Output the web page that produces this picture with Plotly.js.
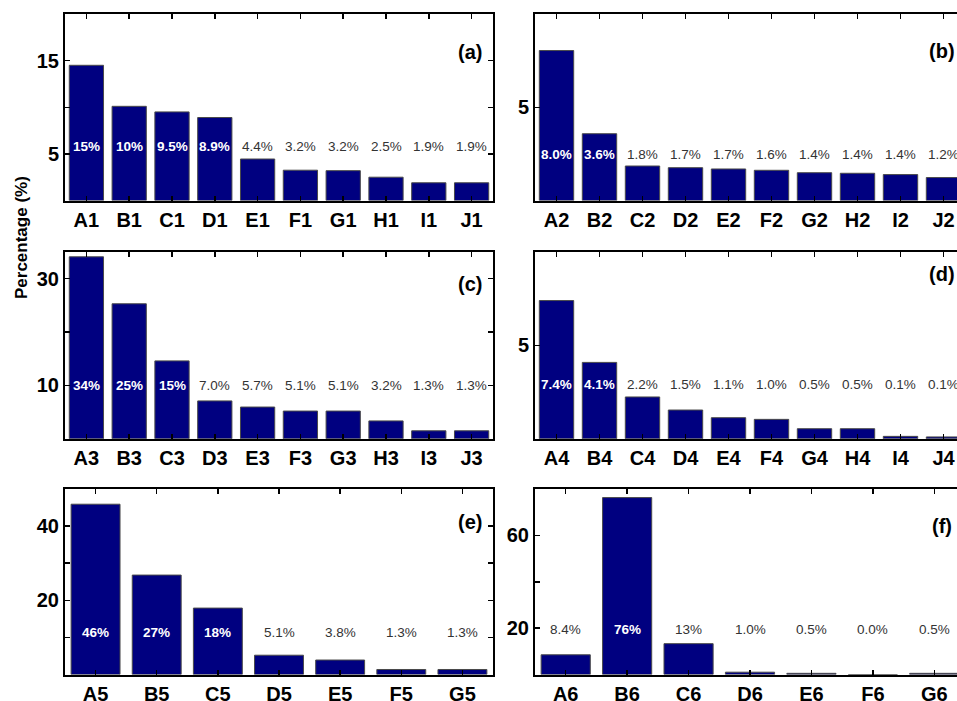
<!DOCTYPE html>
<html><head><meta charset="utf-8">
<script src="https://cdn.plot.ly/plotly-3.0.1.min.js"></script>
<style>html,body{margin:0;padding:0;overflow:hidden;background:#fff}#chart{width:980px;height:701px}</style>
</head><body><div id="chart"></div>
<script>
// ---- data ----
const catsA = ['A1','B1','C1','D1','E1','F1','G1','H1','I1','J1'];
const valsA = [14.5,10.1,9.5,8.9,4.45,3.25,3.2,2.5,1.9,1.9];
const labsA = ['15%','10%','9.5%','8.9%','4.4%','3.2%','3.2%','2.5%','1.9%','1.9%'];

const catsB = ['A2','B2','C2','D2','E2','F2','G2','H2','I2','J2'];
const valsB = [8.04,3.58,1.85,1.76,1.69,1.62,1.49,1.46,1.39,1.23];
const labsB = ['8.0%','3.6%','1.8%','1.7%','1.7%','1.6%','1.4%','1.4%','1.4%','1.2%'];

const catsC = ['A3','B3','C3','D3','E3','F3','G3','H3','I3','J3'];
const valsC = [34.1,25.3,14.6,7.1,5.95,5.2,5.2,3.35,1.5,1.5];
const labsC = ['34%','25%','15%','7.0%','5.7%','5.1%','5.1%','3.2%','1.3%','1.3%'];

const catsD = ['A4','B4','C4','D4','E4','F4','G4','H4','I4','J4'];
const valsD = [7.4,4.09,2.24,1.54,1.13,1.04,0.54,0.54,0.13,0.1];
const labsD = ['7.4%','4.1%','2.2%','1.5%','1.1%','1.0%','0.5%','0.5%','0.1%','0.1%'];

const catsE = ['A5','B5','C5','D5','E5','F5','G5'];
const valsE = [45.9,26.8,17.9,5.2,3.9,1.35,1.35];
const labsE = ['46%','27%','18%','5.1%','3.8%','1.3%','1.3%'];

const catsF = ['A6','B6','C6','D6','E6','F6','G6'];
const valsF = [8.5,76.3,13.3,1.0,0.5,0.0,0.5];
const labsF = ['8.4%','76%','13%','1.0%','0.5%','0.0%','0.5%'];

const panelNames = ['(a)','(b)','(c)','(d)','(e)','(f)'];
const yTitle = 'Percentage (%)';

// ---- layout geometry (px) ----
const W = 980, H = 701;
const cols = [[65,493],[535,965]];
const rows = [[14,200.5],[252,438.8],[489,674.5]];

const panels = [
  {cats:catsA, vals:valsA, labs:labsA, col:0,row:0, range:[0,20], tv:[5,10,15], tt:['5','','15'], ly:5.8,  name:[470,52]},
  {cats:catsB, vals:valsB, labs:labsB, col:1,row:0, range:[0,10], tv:[5], tt:['5'], ly:2.45, name:[942,51]},
  {cats:catsC, vals:valsC, labs:labsC, col:0,row:1, range:[0,35], tv:[10,20,30], tt:['10','','30'], ly:9.9, name:[470,284]},
  {cats:catsD, vals:valsD, labs:labsD, col:1,row:1, range:[0,10], tv:[5], tt:['5'], ly:2.92, name:[942,274]},
  {cats:catsE, vals:valsE, labs:labsE, col:0,row:2, range:[0,50], tv:[10,20,30,40], tt:['','20','','40'], ly:11.4, name:[470,522]},
  {cats:catsF, vals:valsF, labs:labsF, col:1,row:2, range:[0,80], tv:[20,40,60], tt:['20','','60'], ly:19.5, name:[942,526]}
];

const FONT = 'Liberation Sans, Arial, sans-serif';
const data = [];
const layout = {
  width: W, height: H, margin:{l:0,r:0,t:0,b:0},
  paper_bgcolor:'#fff', plot_bgcolor:'#fff', showlegend:false,
  font:{family:FONT, color:'#000'},
  annotations: []
};

panels.forEach((p,i) => {
  const k = i+1;
  const xa = 'x'+(k===1?'':k), ya = 'y'+(k===1?'':k);
  const xk = 'xaxis'+(k===1?'':k), yk = 'yaxis'+(k===1?'':k);
  data.push({
    type:'bar', x:p.cats, y:p.vals, xaxis:xa, yaxis:ya, width:0.8,
    marker:{color:'#000080', line:{color:'#4a4a4a', width:1}},
    hoverinfo:'x+y'
  });
  const c = cols[p.col], r = rows[p.row];
  layout[xk] = {
    domain:[c[0]/W, c[1]/W], anchor:ya, type:'category',
    range:[-0.5, p.cats.length-0.5],
    showline:true, linecolor:'#000', linewidth:2, mirror:'allticks',
    ticks:'inside', ticklen:5, tickwidth:1.5, tickcolor:'#000',
    tickfont:{family:FONT, size:20, weight:'bold', color:'#000'},
    showgrid:false, zeroline:false, fixedrange:true
  };
  layout[yk] = {
    domain:[1-r[1]/H, 1-r[0]/H], anchor:xa,
    range:p.range, tickmode:'array', tickvals:p.tv, ticktext:p.tt,
    showline:true, linecolor:'#000', linewidth:2, mirror:'allticks',
    ticks:'inside', ticklen:5, tickwidth:1.5, tickcolor:'#000',
    tickfont:{family:FONT, size:20, weight:'bold', color:'#000'},
    showgrid:false, zeroline:false, fixedrange:true
  };
  p.cats.forEach((cat,j) => {
    const inside = p.vals[j] > p.ly;
    layout.annotations.push({
      x:cat, y:p.ly, xref:xa, yref:ya, text:p.labs[j], showarrow:false,
      xanchor:'center', yanchor:'middle',
      font:{family:FONT, size:13.5, color: inside ? '#ffffff' : '#333333', weight: inside ? 'bold' : 'normal'}
    });
  });
  layout.annotations.push({
    x:p.name[0]/W, y:1-p.name[1]/H, xref:'paper', yref:'paper', text:panelNames[i],
    showarrow:false, xanchor:'center', yanchor:'middle',
    font:{family:FONT, size:20, weight:'bold', color:'#000'}
  });
});

layout.annotations.push({
  x:22/W, y:1-238/H, xref:'paper', yref:'paper', text:yTitle, textangle:-90,
  showarrow:false, xanchor:'center', yanchor:'middle',
  font:{family:FONT, size:17, weight:'bold', color:'#000'}
});

Plotly.newPlot('chart', data, layout, {displayModeBar:false, staticPlot:true});
</script></body></html>
